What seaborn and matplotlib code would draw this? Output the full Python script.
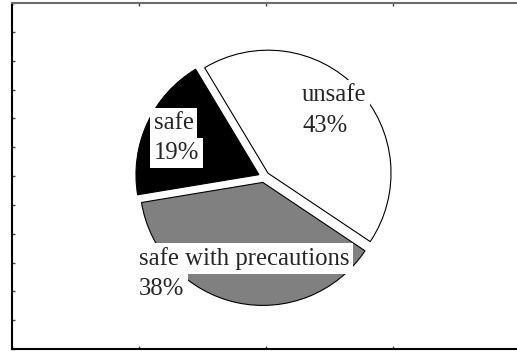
import seaborn as sns
import matplotlib.pyplot as plt

# pie data, clockwise from the top-left
categories = ['unsafe', 'safe with precautions', 'safe']
shares = [43, 38, 19]
colors = ['white', '#808080', 'black']

sns.set_style('white')
plt.rcParams['font.family'] = ['Liberation Serif', 'DejaVu Serif']

W, H = 517, 351
fig = plt.figure(figsize=(W / 100, H / 100), dpi=100)

# frame axes (the right spine falls just off the canvas)
ax0 = fig.add_axes([12 / W, 2 / H, 508 / W, 346 / H])
ax0.set_xlim(0, 4)
ax0.set_ylim(0, 12)
ax0.set_xticks(range(5))
ax0.set_yticks(range(13))
ax0.tick_params(direction='in', length=2, width=1, color='#444444',
                top=True, bottom=True, left=True, right=False,
                labelbottom=False, labelleft=False)
for side in ['left', 'bottom']:
    ax0.spines[side].set_color('black')
    ax0.spines[side].set_linewidth(1.5)
ax0.spines['top'].set_color('#6e6e6e')
ax0.spines['top'].set_linewidth(1.5)

# pie axes: 123 px per unit, centred at (264, 177) px
R = 123
half = 1.4
side = 2 * half * R
ax = fig.add_axes([(264 - side / 2) / W, (H - 177 - side / 2) / H, side / W, side / H])
ax.patch.set_alpha(0)
ax.pie(shares, colors=colors, startangle=121, counterclock=False,
       explode=[0.045] * 3,
       wedgeprops=dict(edgecolor='black', linewidth=0.8))
ax.set_xlim(-half, half)
ax.set_ylim(-half, half)
ax.set_axis_off()

label_pos = {
    'unsafe': (0.309, 0.62, 0.368),
    'safe with precautions': (-1.014, -0.715, -0.96),
    'safe': (-0.895, 0.39, 0.146),
}
box = dict(boxstyle='square,pad=0.15', facecolor='white', edgecolor='none')
for name, share in zip(categories, shares):
    x, y1, y2 = label_pos[name]
    ax.text(x, y1, name, fontsize=17.8, va='baseline', ha='left', bbox=box)
    ax.text(x, y2, f'{share}%', fontsize=17.8, va='baseline', ha='left', bbox=box)

fig.savefig('out.png', dpi=100)
